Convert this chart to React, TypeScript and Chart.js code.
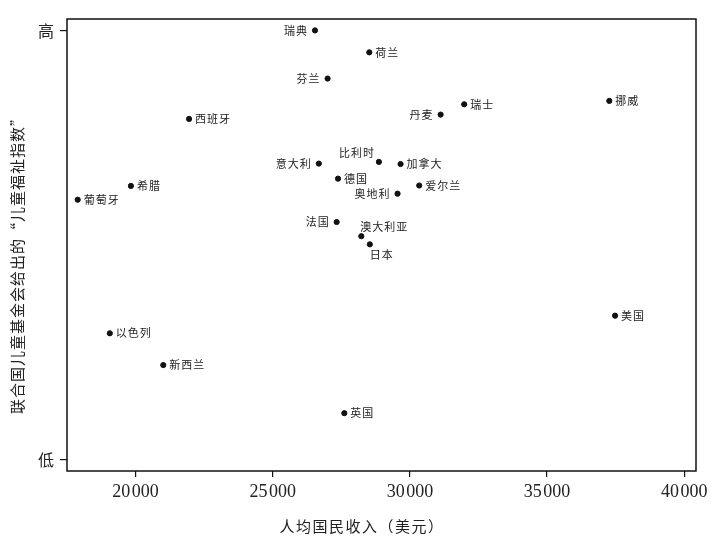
import React, { useEffect, useRef } from 'react';
import { Chart, registerables } from 'chart.js';

Chart.register(...registerables);

const countries = ['瑞典', '荷兰', '芬兰', '西班牙', '意大利', '比利时', '德国', '希腊', '葡萄牙', '奥地利', '加拿大', '爱尔兰', '丹麦', '瑞士', '挪威', '法国', '澳大利亚', '日本', '美国', '以色列', '新西兰', '英国'];
const gniPerCapita = [26540, 28520, 27000, 21950, 26680, 28870, 27380, 19830, 17890, 29550, 29660, 30340, 31120, 31980, 37270, 27330, 28230, 28540, 37480, 19060, 21010, 27610];
const wellbeingIndex = [100.0, 94.9, 88.8, 79.4, 69.0, 69.4, 65.5, 63.8, 60.6, 62.0, 68.9, 63.9, 80.4, 82.8, 83.6, 55.4, 52.1, 50.2, 33.6, 29.5, 22.1, 10.9];
const labelAnchor = ['left', 'right', 'left', 'right', 'left', 'above-left', 'right', 'right', 'right', 'left', 'right', 'right', 'left', 'right', 'right', 'left', 'above-right', 'below', 'right', 'right', 'right', 'right'];
const xTickValues = [20000, 25000, 30000, 35000, 40000];
const yTickValues = [0, 100];
const yTickLabels = ['低', '高'];
const xTitle = '人均国民收入（美元）';
const yTitle = '联合国儿童基金会给出的“儿童福祉指数”';

const CJK = '"Noto Sans CJK SC", "Noto Sans", sans-serif';

const labelPlugin = {
  id: 'pointLabels',
  afterDatasetsDraw(chart: any) {
    const ctx = chart.ctx as CanvasRenderingContext2D;
    const meta = chart.getDatasetMeta(0);
    ctx.save();
    ctx.fillStyle = '#222';
    ctx.font = `11px ${CJK}`;
    (ctx as any).letterSpacing = '1px';
    ctx.textBaseline = 'middle';
    meta.data.forEach((pt: any, i: number) => {
      const name = countries[i];
      const a = labelAnchor[i];
      let x = pt.x;
      let y = pt.y;
      if (a === 'left') { ctx.textAlign = 'right'; x -= 7; }
      else if (a === 'right') { ctx.textAlign = 'left'; x += 6; }
      else if (a === 'above-left') { ctx.textAlign = 'right'; x -= 4; y -= 9; }
      else if (a === 'above-right') { ctx.textAlign = 'left'; x -= 1; y -= 9; }
      else if (a === 'below') { ctx.textAlign = 'left'; y += 10; }
      ctx.fillText(name, x, y);
    });
    ctx.restore();
  },
};

const framePlugin = {
  id: 'frameAndTitles',
  afterDraw(chart: any) {
    const ctx = chart.ctx as CanvasRenderingContext2D;
    const a = chart.chartArea;
    ctx.save();
    ctx.strokeStyle = '#111';
    ctx.lineWidth = 1.5;
    ctx.strokeRect(a.left, a.top, a.right - a.left, a.bottom - a.top);
    ctx.fillStyle = '#222';
    ctx.font = `15px ${CJK}`;
    (ctx as any).letterSpacing = '1.5px';
    ctx.textAlign = 'center';
    ctx.textBaseline = 'middle';
    ctx.fillText(xTitle, 362, 526);
    ctx.translate(17, 262);
    ctx.rotate(-Math.PI / 2);
    (ctx as any).letterSpacing = '1px';
    ctx.fillText(yTitle, 0, 0);
    ctx.restore();
  },
};

export default function App() {
  const ref = useRef<HTMLCanvasElement>(null);
  useEffect(() => {
    if (!ref.current) return;
    const chart = new Chart(ref.current, {
      type: 'scatter',
      data: {
        datasets: [
          {
            data: gniPerCapita.map((x, i) => ({ x, y: wellbeingIndex[i] })),
            backgroundColor: '#111',
            borderColor: '#111',
            pointRadius: 2.6,
            pointHoverRadius: 2.6,
          },
        ],
      },
      options: {
        responsive: false,
        animation: false,
        events: [],
        layout: { padding: { left: 0, top: 19, right: 19, bottom: 0 } },
        plugins: { legend: { display: false }, tooltip: { enabled: false } },
        scales: {
          x: {
            type: 'linear',
            min: 17500,
            max: 40430,
            afterBuildTicks: (s: any) => { s.ticks = xTickValues.map((v) => ({ value: v })); },
            afterFit: (s: any) => { s.height = 66; },
            grid: { display: true, drawOnChartArea: false, drawTicks: true, tickLength: 6, color: '#111', lineWidth: 1.2 },
            border: { display: false },
            ticks: {
              color: '#222',
              font: { family: '"Liberation Serif", serif', size: 18 },
              padding: 4,
              maxRotation: 0,
              callback: (v: any) => {
                const s = String(v);
                return s.slice(0, s.length - 3) + '\u200A' + s.slice(-3);
              },
            },
          },
          y: {
            type: 'linear',
            min: -2.56,
            max: 102.66,
            afterBuildTicks: (s: any) => { s.ticks = yTickValues.map((v) => ({ value: v })); },
            afterFit: (s: any) => { s.width = 67; },
            grid: { display: true, drawOnChartArea: false, drawTicks: true, tickLength: 7, color: '#111', lineWidth: 1.2 },
            border: { display: false },
            ticks: {
              color: '#222',
              font: { family: CJK, size: 16 },
              padding: 6,
              callback: (v: any) => yTickLabels[yTickValues.indexOf(v)] ?? '',
            },
          },
        },
      },
      plugins: [labelPlugin, framePlugin],
    });
    return () => chart.destroy();
  }, []);
  return (
    <div style={{ position: 'absolute', left: 0, top: 0, width: 715, height: 537, background: '#fff' }}>
      <canvas ref={ref} width={715} height={537} style={{ display: 'block' }} />
    </div>
  );
}
